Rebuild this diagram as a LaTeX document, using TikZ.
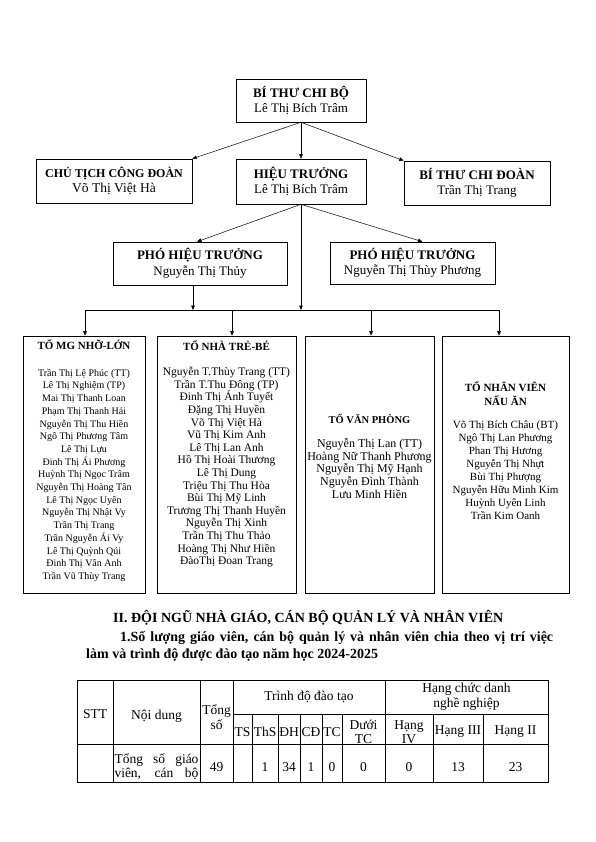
\documentclass[tikz,border=0pt]{standalone}
\usepackage{fontspec}
\setmainfont{Liberation Serif}
\usetikzlibrary{arrows.meta}

\begin{document}
\begin{tikzpicture}[x=1pt, y=-1pt,
  every node/.style={inner sep=0pt},
  box/.style={draw, line width=0.6pt, align=center, font=\fontsize{13}{15.5}\selectfont},
  grp/.style={draw, line width=0.6pt, minimum height=257pt},
  lst/.style={anchor=north, align=center},
  hd/.style={font=\fontsize{11}{12}\bfseries},
  arr/.style={line width=0.5pt, -{Triangle[length=4.5pt, width=3.6pt]}},
  cell/.style={font=\fontsize{13.5}{14.5}\selectfont, align=center}]
\useasboundingbox (0,0) rectangle (595,842);

% Top level
\node[box, minimum width=130pt, minimum height=43pt] (btcb) at (301,100.5)
  {{\bfseries BÍ THƯ CHI BỘ}\\Lê Thị Bích Trâm};
\node[box, minimum width=156pt, minimum height=44pt] (ctcd) at (114,181)
  {{\fontsize{12}{15}\bfseries CHỦ TỊCH CÔNG ĐOÀN}\\\fontsize{13.5}{15.5}\selectfont Võ Thị Việt Hà};
\node[box, minimum width=130pt, minimum height=45pt] (ht) at (301,181.5)
  {{\bfseries HIỆU TRƯỞNG}\\Lê Thị Bích Trâm};
\node[box, minimum width=146pt, minimum height=44pt] (btcd) at (477,183)
  {{\bfseries BÍ THƯ CHI ĐOÀN}\\Trần Thị Trang};

\draw[arr] (btcb.south) -- (ht.north);
\draw[arr] (btcb.south) -- (ctcd.north east);
\draw[arr] (btcb.south) -- (btcd.north west);

% Vice principals
\node[box, minimum width=174pt, minimum height=43pt] (pht1) at (200,263.5)
  {{\bfseries PHÓ HIỆU TRƯỞNG}\\Nguyễn Thị Thủy};
\node[box, minimum width=165pt, minimum height=42pt] (pht2) at (412.5,263)
  {{\bfseries PHÓ HIỆU TRƯỞNG}\\Nguyễn Thị Thùy Phương};

\draw[arr] (ht.south) -- ([xshift=-3pt]pht1.north);
\draw[arr] (ht.south) -- ([xshift=10pt]pht2.north);

% Bus line to the groups
\coordinate (d1) at (85,310);
\coordinate (d2) at (232,310);
\coordinate (d3) at (371,310);
\coordinate (d4) at (499,310);
\draw[line width=0.5pt] (d1) -- (d4);
\draw[arr] (ht.south) -- (ht.south |- d1);
\draw[arr] ([xshift=-7pt]pht1.south) -- ([xshift=-7pt]pht1.south |- d1);

% Groups
\node[grp, minimum width=122pt] (g1) at (84,464.5) {};
\node[grp, minimum width=139pt] (g2) at (226.5,464.5) {};
\node[grp, minimum width=129pt] (g3) at (369.5,464.5) {};
\node[grp, minimum width=127pt] (g4) at (505.5,464.5) {};

\foreach \d/\g in {d1/g1, d2/g2, d3/g3, d4/g4}
  \draw[arr] (\d) -- (\d |- \g.north);

\node[lst, font=\fontsize{10}{12.7}\selectfont] (l1) at (84,339)
  {{\fontsize{11}{12}\bfseries TỔ MG NHỠ-LỚN}\\[14.5pt]
   Trần Thị Lệ Phúc (TT)\\Lê Thị Nghiệm (TP)\\Mai Thị Thanh Loan\\
   Phạm Thị Thanh Hải\\Nguyễn Thị Thu Hiền\\Ngô Thị Phương Tâm\\
   Lê Thị Lựu\\Đinh Thị Ái Phương\\Huỳnh Thị Ngọc Trâm\\
   Nguyễn Thị Hoàng Tân\\Lê Thị Ngọc Uyên\\Nguyễn Thị Nhật Vy\\
   Trần Thị Trang\\Trần Nguyễn Ái Vy\\Lê Thị Quỳnh Qúi\\
   Đinh Thị Vân Anh\\Trần Vũ Thùy Trang};
\node[lst, font=\fontsize{11.5}{12.6}\selectfont] (l2) at (226.5,340)
  {{\fontsize{11}{12}\bfseries TỔ NHÀ TRẺ-BÉ}\\[13pt]
   Nguyễn T.Thùy Trang (TT)\\Trần T.Thu Đông (TP)\\Đinh Thị Ánh Tuyết\\
   Đặng Thị Huyền\\Võ Thị Việt Hà\\Vũ Thị Kim Anh\\Lê Thị Lan Anh\\
   Hồ Thị Hoài Thương\\Lê Thị Dung\\Triệu Thị Thu Hòa\\Bùi Thị Mỹ Linh\\
   Trương Thị Thanh Huyền\\Nguyễn Thị Xinh\\Trần Thị Thu Thảo\\
   Hoàng Thị Như Hiền\\ĐàoThị Đoan Trang};
\node[lst, font=\fontsize{12}{12.75}\selectfont] (l3) at (369.5,414)
  {{\fontsize{10.5}{12}\bfseries TỔ VĂN PHÒNG}\\[11pt]
   Nguyễn Thị Lan (TT)\\Hoàng Nữ Thanh Phương\\Nguyễn Thị Mỹ Hạnh\\
   Nguyễn Đình Thành\\Lưu Minh Hiền};
\node[lst, font=\fontsize{11}{13}\selectfont] (l4) at (505.5,381)
  {{\fontsize{11}{12}\bfseries TỔ NHÂN VIÊN}\\[1pt]
   {\fontsize{11}{12}\bfseries NẤU ĂN}\\[10pt]
   Võ Thị Bích Châu (BT)\\Ngô Thị Lan Phương\\Phan Thị Hương\\
   Nguyễn Thị Nhựt\\Bùi Thị Phượng\\Nguyễn Hữu Minh Kim\\
   Huỳnh Uyên Linh\\Trần Kim Oanh};

% Section heading
\node[anchor=west, font=\fontsize{14}{16}\bfseries] (sec) at (113,618)
  {II. ĐỘI NGŨ NHÀ GIÁO, CÁN BỘ QUẢN LÝ VÀ NHÂN VIÊN};
\node[anchor=west, font=\fontsize{14}{16}\bfseries] (sub1) at (120,638)
  {\makebox[433pt][s]{1.Số lượng giáo viên, cán bộ quản lý và nhân viên chia theo vị trí việc}};
\node[anchor=west, font=\fontsize{14}{16}\bfseries] (sub2) at (86,655)
  {làm và trình độ được đào tạo năm học 2024-2025};

% Table
\begin{scope}[line width=0.6pt]
\draw (77,680) rectangle (548,782);
\draw (233,714) -- (548,714);
\draw (77,744) -- (548,744);
\foreach \x in {113,200,233,385}
  \draw (\x,680) -- (\x,782);
\foreach \x in {252,278,300,322,342,433,483}
  \draw (\x,714) -- (\x,782);
\end{scope}

\node[cell] (h1) at (95,714.5) {STT};
\node[cell] (h2) at (156.5,716) {Nội dung};
\node[cell] (h3) at (216.5,717) {Tổng\\số};
\node[cell] (h4) at (309,697) {Trình độ đào tạo};
\node[cell] (h5) at (466.5,697) {Hạng chức danh\\nghề nghiệp};
\node[cell] (h6) at (242.5,732) {TS};
\node[cell] (h7) at (265,732) {ThS};
\node[cell] (h8) at (289,732) {ĐH};
\node[cell] (h9) at (311,732) {CĐ};
\node[cell] (h10) at (332,732) {TC};
\node[cell] (h11) at (363.5,732) {Dưới\\TC};
\node[cell] (h12) at (409,732) {Hạng\\IV};
\node[cell] (h13) at (458,732) {Hạng III};
\node[cell] (h14) at (515.5,732) {Hạng II};

\node[cell, align=left] (r1) at (156.5,766.5)
  {\makebox[84pt][s]{Tổng số giáo}\\\makebox[84pt][s]{viên, cán bộ}};
\node[cell] (c1) at (216.5,767.5) {49};
\node[cell] (c2) at (265,767.5) {1};
\node[cell] (c3) at (289,767.5) {34};
\node[cell] (c4) at (311,767.5) {1};
\node[cell] (c5) at (332,767.5) {0};
\node[cell] (c6) at (363.5,767.5) {0};
\node[cell] (c7) at (409,767.5) {0};
\node[cell] (c8) at (458,767.5) {13};
\node[cell] (c9) at (515.5,767.5) {23};

\end{tikzpicture}
\end{document}
